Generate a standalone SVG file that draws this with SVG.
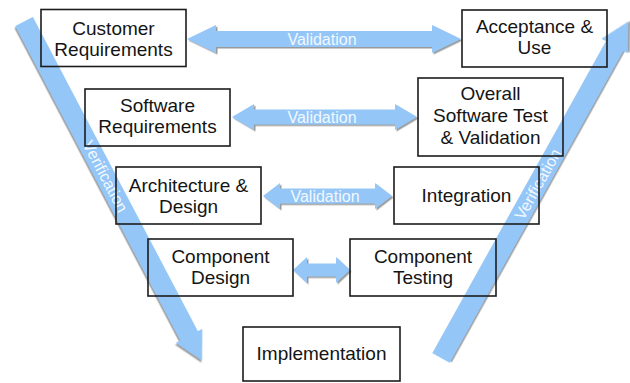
<svg xmlns="http://www.w3.org/2000/svg" width="630" height="383" viewBox="0 0 630 383">
  <defs>
    <filter id="shade" x="-10%" y="-10%" width="120%" height="120%">
      <feDropShadow dx="1.5" dy="1.5" stdDeviation="0.7" flood-color="#6e6e6e" flood-opacity="0.7"/>
    </filter>
  </defs>
  <style>
    .band { fill: #94c7f8; filter: url(#shade); }
    .band-label { font-family: "Liberation Sans", Arial, sans-serif; font-size: 16px; fill: #f2f8ff; text-anchor: middle; }
    .box { fill: none; stroke: #1c1c1c; stroke-width: 1.6; }
    .label { font-family: "Liberation Sans", Arial, sans-serif; font-size: 19px; fill: #141414; text-anchor: middle; }
  </style>
  <rect width="630" height="383" fill="#ffffff"/>

  <!-- connectors: validation links and the two verification legs of the V -->
  <g id="connectors">
    <g id="verification-down" transform="translate(24 21.5) rotate(62.3)">
      <path class="band" d="M0 -10 L355 -10 L355 -15 L383 0 L355 15 L355 10 L0 10 Z"/>
      <text class="band-label" x="175" y="5.5">Verification</text>
    </g>
    <g id="verification-up" transform="translate(441 358) rotate(-60.9)">
      <path class="band" d="M0 -10 L357 -10 L357 -15 L385 0 L357 15 L357 10 L0 10 Z"/>
      <text class="band-label" x="199" y="5.5">Verification</text>
    </g>
    <g id="validation-1">
      <path class="band" d="M187 39 L216 25 L216 31 L432 31 L432 25 L461 39 L432 53 L432 47 L216 47 L216 53 Z"/>
      <text class="band-label" x="322" y="44.5">Validation</text>
    </g>
    <g id="validation-2">
      <path class="band" d="M232 117 L254 104 L254 109.5 L395 109.5 L395 104 L417 117 L395 130 L395 124.5 L254 124.5 L254 130 Z"/>
      <text class="band-label" x="322" y="122.5">Validation</text>
    </g>
    <g id="validation-3">
      <path class="band" d="M263 196 L280 183 L280 188.5 L375 188.5 L375 183 L392 196 L375 209 L375 203.5 L280 203.5 L280 209 Z"/>
      <text class="band-label" x="325" y="201.5">Validation</text>
    </g>
    <g id="validation-4">
      <path class="band" d="M293 270 L307 257 L307 263.5 L336 263.5 L336 257 L350 270 L336 283 L336 276.5 L307 276.5 L307 283 Z"/>
    </g>
  </g>

  <!-- left side of the V -->
  <g id="customer-requirements">
    <rect class="box" x="41" y="9.5" width="145" height="57"/>
    <text class="label" x="113.5" y="35">Customer</text>
    <text class="label" x="113.5" y="56">Requirements</text>
  </g>
  <g id="software-requirements">
    <rect class="box" x="85" y="89" width="145" height="57"/>
    <text class="label" x="157.5" y="112">Software</text>
    <text class="label" x="157.5" y="133">Requirements</text>
  </g>
  <g id="architecture-design">
    <rect class="box" x="116" y="167" width="145" height="57"/>
    <text class="label" x="188.5" y="192">Architecture &amp;</text>
    <text class="label" x="188.5" y="213">Design</text>
  </g>
  <g id="component-design">
    <rect class="box" x="148" y="239" width="145" height="57"/>
    <text class="label" x="220.5" y="263">Component</text>
    <text class="label" x="220.5" y="284">Design</text>
  </g>

  <!-- bottom of the V -->
  <g id="implementation">
    <rect class="box" x="243" y="327" width="157" height="54"/>
    <text class="label" x="321.5" y="360">Implementation</text>
  </g>

  <!-- right side of the V -->
  <g id="component-testing">
    <rect class="box" x="350" y="239" width="146" height="57"/>
    <text class="label" x="423" y="263">Component</text>
    <text class="label" x="423" y="284">Testing</text>
  </g>
  <g id="integration">
    <rect class="box" x="394" y="167" width="145" height="57"/>
    <text class="label" x="466.5" y="202">Integration</text>
  </g>
  <g id="overall-software-test">
    <rect class="box" x="418" y="78" width="145" height="78"/>
    <text class="label" x="490.5" y="100">Overall</text>
    <text class="label" x="490.5" y="122">Software Test</text>
    <text class="label" x="490.5" y="144">&amp; Validation</text>
  </g>
  <g id="acceptance-use">
    <rect class="box" x="462" y="10" width="145" height="57"/>
    <text class="label" x="534.5" y="33">Acceptance &amp;</text>
    <text class="label" x="534.5" y="54">Use</text>
  </g>
</svg>
